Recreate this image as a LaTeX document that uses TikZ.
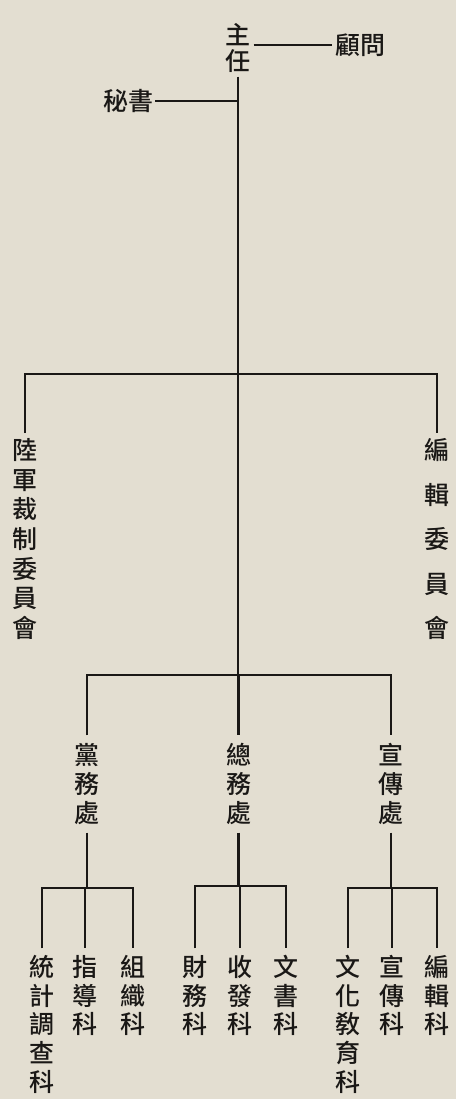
\documentclass[tikz,border=0pt]{standalone}
\usepackage{fontspec}
\newfontfamily\cjk{Noto Sans CJK TC}[UprightFont=* Medium]
\definecolor{paper}{HTML}{E3DED1}
\definecolor{ink}{HTML}{1A1816}
\newcommand\zs{\rule[-0.12em]{0pt}{1em}}
\begin{document}
\begin{tikzpicture}[x=1pt,y=-1pt,
  lbl/.style={font=\cjk\fontsize{25}{29}\selectfont, text=ink, inner xsep=3pt, inner ysep=6pt, align=center},
  vlab/.style={lbl, font=\cjk\fontsize{25}{#1}\selectfont},
  conn/.style={draw=ink, line width=2.8pt},
  thin/.style={draw=ink, line width=2pt},
]
\fill[paper] (0,0) rectangle (456,1099);
\useasboundingbox (0,0) rectangle (456,1099);

% top
\node[vlab=26, inner ysep=3pt] (zhuren) at (238,48) {\zs 主\\\zs 任};
\node[lbl] (guwen) at (360,45) {\zs 顧問};
\node[lbl, inner xsep=2pt] (mishu) at (128,101) {\zs 秘書};

\coordinate (b1) at (238,374);
\coordinate (b2) at (238,675);

% first level
\node[vlab=29.7, inner ysep=4pt] (luxun) at (25,539) {\zs 陸\\\zs 軍\\\zs 裁\\\zs 制\\\zs 委\\\zs 員\\\zs 會};
\node[vlab=44.5, inner ysep=4pt] (bianjiwei) at (437,539) {\zs 編\\\zs 輯\\\zs 委\\\zs 員\\\zs 會};

% second level
\node[vlab=29, inner ysep=7pt] (dangwu) at (87,784) {\zs 黨\\\zs 務\\\zs 處};
\node[vlab=29, inner ysep=7pt] (zongwu) at (238.5,784) {\zs 總\\\zs 務\\\zs 處};
\node[vlab=29, inner ysep=7pt] (xuanchuan) at (391,784) {\zs 宣\\\zs 傳\\\zs 處};

\coordinate (c1) at (dangwu.south |- 0,888);
\coordinate (c2) at (zongwu.south |- 0,886);
\coordinate (c3) at (xuanchuan.south |- 0,888);

% third level
\node[vlab=28.7] (tongji) at (42,1024.4) {\zs 統\\\zs 計\\\zs 調\\\zs 查\\\zs 科};
\node[vlab=28.7] (zhidao) at (85,995.7) {\zs 指\\\zs 導\\\zs 科};
\node[vlab=28.7] (zuzhi) at (133,995.7) {\zs 組\\\zs 織\\\zs 科};
\node[vlab=28.7] (caiwu) at (195,995.7) {\zs 財\\\zs 務\\\zs 科};
\node[vlab=28.7] (shoufa) at (240,995.7) {\zs 收\\\zs 發\\\zs 科};
\node[vlab=28.7] (wenshu) at (286,995.7) {\zs 文\\\zs 書\\\zs 科};
\node[vlab=28.7] (wenhua) at (348,1024.4) {\zs 文\\\zs 化\\\zs 敎\\\zs 育\\\zs 科};
\node[vlab=28.7] (xuanchuanke) at (392,995.7) {\zs 宣\\\zs 傳\\\zs 科};
\node[vlab=28.7] (bianjike) at (437,995.7) {\zs 編\\\zs 輯\\\zs 科};

% connectors
\draw[thin] (guwen.west -| zhuren.east) -- (guwen.west);
\draw[thin] (mishu.east) -- (mishu.east -| b1);
\draw[conn] (zhuren.south) -- (b1) -- (b2);
\draw[conn] (luxun.north) |- (b1) -| (bianjiwei.north);
\draw[conn] (dangwu.north) |- (b2) -| (xuanchuan.north);
\draw[conn] (zongwu.north |- b2) -- (zongwu.north);

\draw[conn] (dangwu.south) -- (c1);
\draw[conn] (zongwu.south) -- (c2);
\draw[conn] (xuanchuan.south) -- (c3);

\draw[conn] (tongji.north) |- (c1) -| (zuzhi.north);
\draw[conn] (zhidao.north |- c1) -- (zhidao.north);
\draw[conn] (caiwu.north) |- (c2) -| (wenshu.north);
\draw[conn] (shoufa.north |- c2) -- (shoufa.north);
\draw[conn] (wenhua.north) |- (c3) -| (bianjike.north);
\draw[conn] (xuanchuanke.north |- c3) -- (xuanchuanke.north);
\end{tikzpicture}
\end{document}
